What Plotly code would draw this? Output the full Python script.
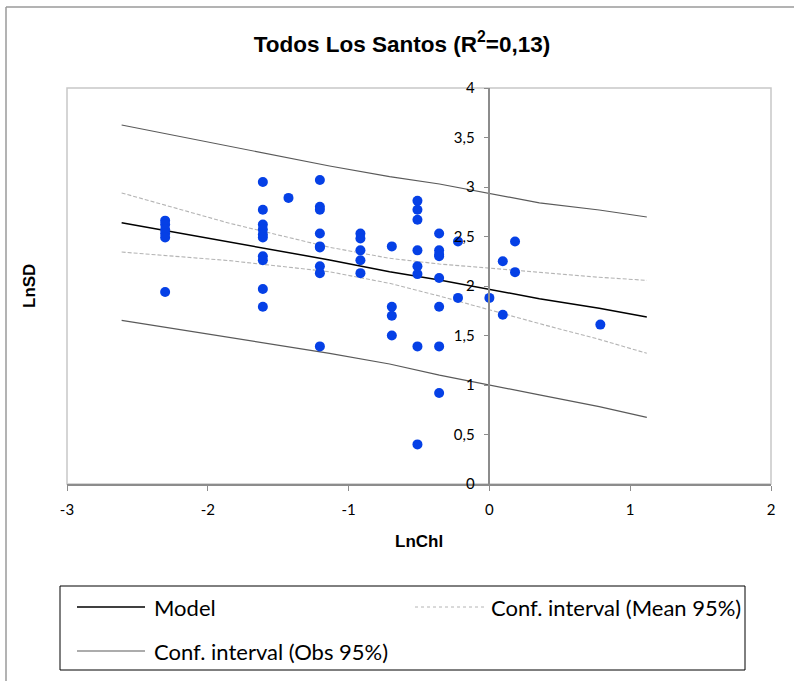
import plotly.graph_objects as go

# ---------------- data ----------------
ln_chl = ([-2.303] * 6 + [-1.609] * 10 + [-1.427] + [-1.204] * 9 + [-0.916] * 5 +
          [-0.693] * 4 + [-0.511] * 8 + [-0.357] * 8 + [-0.223] * 2 + [0.0] +
          [0.095] * 2 + [0.182] * 2 + [0.788])
ln_sd = ([2.66, 2.62, 2.57, 2.53, 2.49, 1.94] +
         [3.05, 2.77, 2.62, 2.57, 2.52, 2.49, 2.30, 2.26, 1.97, 1.79] +
         [2.89] +
         [3.07, 2.80, 2.77, 2.53, 2.40, 2.39, 2.20, 2.13, 1.39] +
         [2.53, 2.48, 2.36, 2.26, 2.13] +
         [2.40, 1.79, 1.70, 1.50] +
         [2.86, 2.77, 2.67, 2.36, 2.20, 2.12, 1.39, 0.40] +
         [2.53, 2.36, 2.32, 2.30, 2.08, 1.79, 1.39, 0.92] +
         [2.45, 1.88] +
         [1.88] +
         [2.25, 1.71] +
         [2.45, 2.14] +
         [1.61])

curve_x = [-2.612, -1.844, -1.135, -0.709, -0.355, 0.355, 0.78, 1.118]
model_y = [2.640, 2.447, 2.263, 2.145, 2.061, 1.872, 1.775, 1.687]
mean_upper = [2.940, 2.633, 2.391, 2.280, 2.222, 2.135, 2.088, 2.057]
mean_lower = [2.343, 2.256, 2.144, 2.027, 1.899, 1.620, 1.461, 1.320]
obs_upper = [3.626, 3.407, 3.212, 3.104, 3.030, 2.840, 2.768, 2.697]
obs_lower = [1.653, 1.482, 1.320, 1.212, 1.100, 0.900, 0.781, 0.673]

x_ticks = [-3, -2, -1, 0, 1, 2]
x_ticktext = ["-3", "-2", "-1", "0", "1", "2"]
y_ticks = [0, 0.5, 1, 1.5, 2, 2.5, 3, 3.5, 4]
y_ticktext = ["0", "0,5", "1", "1,5", "2", "2,5", "3", "3,5", "4"]

title_text = "Todos Los Santos (R<sup>2</sup>=0,13)"
x_title = "LnChl"
y_title = "LnSD"
legend_labels = ["Model", "Conf. interval (Mean 95%)", "Conf. interval (Obs 95%)"]

# ---------------- layout geometry (pixels) ----------------
W, H = 794, 681
L, R, T, B = 67, 771, 88, 484
PW, PH = R - L, B - T


def px(X):
    return (X - L) / PW


def py(Y):
    return (B - Y) / PH


BLUE = "#0540E6"
OBS_C = "#5A5A5A"
MEAN_C = "#B4B4B4"
AXIS_C = "#8C8C8C"
TICK_FONT = dict(family="Lato, Carlito, Arial", size=15, color="#000000")

fig = go.Figure()

fig.add_trace(go.Scatter(x=curve_x, y=obs_upper, mode="lines",
                         line=dict(color=OBS_C, width=1.2), showlegend=False, hoverinfo="skip"))
fig.add_trace(go.Scatter(x=curve_x, y=obs_lower, mode="lines",
                         line=dict(color=OBS_C, width=1.2), showlegend=False, hoverinfo="skip"))
fig.add_trace(go.Scatter(x=curve_x, y=mean_upper, mode="lines",
                         line=dict(color=MEAN_C, width=1.1, dash="4px,2px"), showlegend=False, hoverinfo="skip"))
fig.add_trace(go.Scatter(x=curve_x, y=mean_lower, mode="lines",
                         line=dict(color=MEAN_C, width=1.1, dash="4px,2px"), showlegend=False, hoverinfo="skip"))
fig.add_trace(go.Scatter(x=curve_x, y=model_y, mode="lines",
                         line=dict(color="#000000", width=1.5), showlegend=False, hoverinfo="skip"))
fig.add_trace(go.Scatter(x=ln_chl, y=ln_sd, mode="markers",
                         marker=dict(color=BLUE, size=10, line=dict(width=0)),
                         showlegend=False, hoverinfo="skip"))

shapes = []
# plot-area border
shapes.append(dict(type="rect", xref="paper", yref="paper", x0=0, x1=1, y0=0, y1=1,
                   line=dict(color="#C8C8C8", width=1.5), layer="below"))
# outer chart frame (top and left visible)
shapes.append(dict(type="line", xref="paper", yref="paper", x0=px(6), x1=px(W + 10), y0=py(7), y1=py(7),
                   line=dict(color="#9A9A9A", width=1.5)))
shapes.append(dict(type="line", xref="paper", yref="paper", x0=px(6), x1=px(6), y0=py(7), y1=py(H + 10),
                   line=dict(color="#9A9A9A", width=1.5)))
# legend box
shapes.append(dict(type="rect", xref="paper", yref="paper", x0=px(60), x1=px(745), y0=py(586), y1=py(670),
                   line=dict(color="#000000", width=1)))
# legend samples
shapes.append(dict(type="line", xref="paper", yref="paper", x0=px(77), x1=px(145), y0=py(607), y1=py(607),
                   line=dict(color="#000000", width=1.5)))
shapes.append(dict(type="line", xref="paper", yref="paper", x0=px(415), x1=px(485), y0=py(607), y1=py(607),
                   line=dict(color=MEAN_C, width=1, dash="dot")))
shapes.append(dict(type="line", xref="paper", yref="paper", x0=px(77), x1=px(145), y0=py(651), y1=py(651),
                   line=dict(color=OBS_C, width=1.2)))

LEG_FONT = dict(family="Lato, Carlito, Arial", size=22, color="#000000")
annotations = [
    dict(text="<b>" + x_title + "</b>", xref="paper", yref="paper", x=px(419), y=py(541), showarrow=False,
         xanchor="center", yanchor="middle", font=dict(family="Arial", size=17, color="#000000")),
    dict(text="<b>" + y_title + "</b>", xref="paper", yref="paper", x=px(29), y=py(286), showarrow=False,
         textangle=-90, xanchor="center", yanchor="middle",
         font=dict(family="Arial", size=17, color="#000000")),
    dict(text=legend_labels[0], xref="paper", yref="paper", x=px(152), y=py(607), showarrow=False,
         xanchor="left", yanchor="middle", font=LEG_FONT),
    dict(text=legend_labels[1], xref="paper", yref="paper", x=px(489), y=py(607), showarrow=False,
         xanchor="left", yanchor="middle", font=LEG_FONT),
    dict(text=legend_labels[2], xref="paper", yref="paper", x=px(152), y=py(651), showarrow=False,
         xanchor="left", yanchor="middle", font=LEG_FONT),
]

fig.update_layout(
    width=W, height=H,
    margin=dict(l=L, r=W - R, t=T, b=H - B, pad=0),
    paper_bgcolor="white", plot_bgcolor="white",
    title=dict(text="<b>" + title_text + "</b>", x=px(402), xref="paper", xanchor="center",
               y=1 - 44 / H, yanchor="middle",
               font=dict(family="Arial", size=22.5, color="#000000")),
    xaxis=dict(range=[-3, 2], tickvals=x_ticks, ticktext=x_ticktext, showgrid=False, zeroline=False,
               showline=True, linecolor=AXIS_C, linewidth=1.5, ticks="outside", ticklen=5,
               tickcolor=AXIS_C, tickfont=TICK_FONT, anchor="y", domain=[0, 1],
               ticklabelstandoff=6),
    yaxis=dict(range=[0, 4], tickvals=y_ticks, ticktext=y_ticktext, showgrid=False, zeroline=False,
               showline=True, linecolor=AXIS_C, linewidth=1.5, ticks="outside", ticklen=5,
               tickcolor=AXIS_C, tickfont=TICK_FONT, anchor="free", position=0.6, domain=[0, 1],
               ticklabelstandoff=6),
    shapes=shapes,
    annotations=annotations,
    showlegend=False,
    hovermode=False,
)

fig.write_html("out.html", config={"displayModeBar": False})
